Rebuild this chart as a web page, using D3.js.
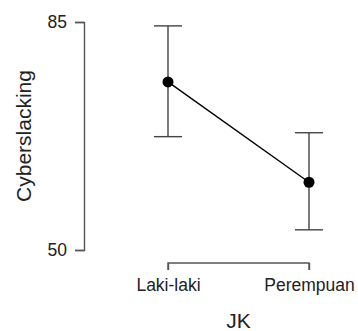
<!DOCTYPE html>
<html>
<head>
<meta charset="utf-8">
<script src="https://cdn.jsdelivr.net/npm/d3@7"></script>
<style>
  html, body { margin: 0; padding: 0; background: #fff; }
  svg { display: block; }
</style>
</head>
<body>
<svg id="chart" width="358" height="331"></svg>
<script>
// descriptives plot: Cyberslacking by JK
const groups = ['Laki-laki', 'Perempuan']
const means  = [75.8, 60.4]
const lower  = [67.4, 53.1]
const upper  = [84.4, 68.0]
const yTicks = [50, 85]

const font = "'Liberation Sans', Arial, Helvetica, sans-serif"
const svg  = d3.select('#chart')

const x = d3.scalePoint().domain(groups).range([168, 309])
const y = d3.scaleLinear().domain([50, 85]).range([250, 22])

// y axis
const yAxis = svg.append('g')
  .attr('transform', 'translate(84,0)')
  .call(d3.axisLeft(y).tickValues(yTicks).tickSize(9).tickPadding(8))
yAxis.select('.domain').attr('stroke', '#555').attr('stroke-width', 1.4)
yAxis.selectAll('.tick line').attr('stroke', '#555').attr('stroke-width', 1.4)
yAxis.selectAll('text')
  .attr('font-family', font).attr('font-size', '17.5px').attr('fill', '#222')

// x axis — R style bracket, ticks pointing down
const xAxis = svg.append('g')
  .attr('transform', 'translate(0,263)')
  .call(d3.axisBottom(x).tickSize(7).tickSizeOuter(0).tickPadding(9))
xAxis.select('.domain').attr('stroke', '#555').attr('stroke-width', 1.4)
  .attr('d', `M${x(groups[0])},7V0H${x(groups[1])}V7`)
xAxis.selectAll('.tick line').attr('stroke', '#555').attr('stroke-width', 1.4)
xAxis.selectAll('text')
  .attr('font-family', font).attr('font-size', '17.5px').attr('fill', '#222')

// axis titles
svg.append('text')
  .attr('transform', `translate(31,${(y(50) + y(85)) / 2}) rotate(-90)`)
  .attr('text-anchor', 'middle')
  .attr('font-family', font).attr('font-size', '21px').attr('fill', '#222')
  .text('Cyberslacking')

svg.append('text')
  .attr('x', (x(groups[0]) + x(groups[1])) / 2)
  .attr('y', 328)
  .attr('text-anchor', 'middle')
  .attr('font-family', font).attr('font-size', '21px').attr('fill', '#222')
  .text('JK')

// error bars
const bars = svg.append('g')
  .selectAll('g')
  .data(groups)
  .enter()
  .append('g')
  .attr('stroke', '#444')
  .attr('stroke-width', 1.4)

bars.append('line')
  .attr('x1', d => x(d)).attr('x2', d => x(d))
  .attr('y1', (d, i) => y(lower[i])).attr('y2', (d, i) => y(upper[i]))
bars.append('line')
  .attr('x1', d => x(d) - 14).attr('x2', d => x(d) + 14)
  .attr('y1', (d, i) => y(upper[i])).attr('y2', (d, i) => y(upper[i]))
bars.append('line')
  .attr('x1', d => x(d) - 14).attr('x2', d => x(d) + 14)
  .attr('y1', (d, i) => y(lower[i])).attr('y2', (d, i) => y(lower[i]))

// mean line
svg.append('path')
  .datum(groups)
  .attr('fill', 'none')
  .attr('stroke', '#000')
  .attr('stroke-width', 1.4)
  .attr('d', d3.line().x(d => x(d)).y((d, i) => y(means[i])))

// points
svg.append('g')
  .selectAll('circle')
  .data(groups)
  .enter()
  .append('circle')
  .attr('cx', d => x(d))
  .attr('cy', (d, i) => y(means[i]))
  .attr('r', 5.5)
  .attr('fill', '#000')
</script>
</body>
</html>
